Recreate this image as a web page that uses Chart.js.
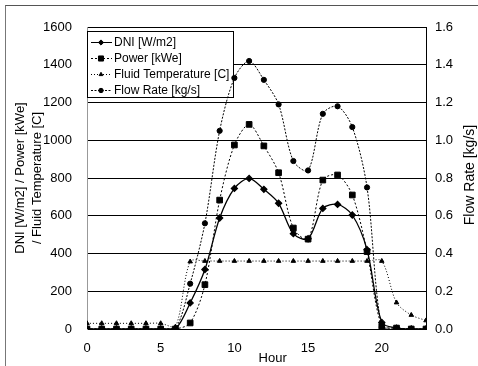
<!DOCTYPE html>
<html>
<head>
<meta charset="utf-8">
<script src="https://cdn.jsdelivr.net/npm/chart.js@4.4.1/dist/chart.umd.min.js"></script>
<style>
  html, body { margin: 0; padding: 0; background: #fff; }
  #wrap { position: relative; width: 478px; height: 366px; }
  #frame {
    position: absolute; left: 5px; top: 5px; width: 473px; height: 361px;
    border-top: 1px solid #555; border-left: 1px solid #777;
  }
  canvas { position: absolute; left: 0; top: 0; }
</style>
</head>
<body>
<div id="wrap">
  <div id="frame"></div>
  <canvas id="solarChart" width="478" height="366"></canvas>
</div>
<script>
// Hourly data
const hours = [0, 1, 2, 3, 4, 5, 6, 7, 8, 9, 10, 11, 12, 13, 14, 15, 16, 17, 18, 19, 20, 21, 22, 23];
const dni = [0, 0, 0, 0, 0, 0, 0, 138, 315, 588, 745, 798, 740, 666, 505, 478, 639, 660, 604, 420, 35, 5, 0, 0];
const power = [0, 0, 0, 0, 0, 0, 0, 32, 235, 683, 975, 1084, 970, 828, 535, 476, 789, 816, 710, 410, 15, 5, 0, 0];
const fluidTemp = [30, 30, 30, 30, 30, 30, 12, 357, 360, 360, 360, 360, 360, 360, 360, 360, 360, 360, 360, 360, 360, 140, 74, 45];
const flowRate = [0, 0, 0, 0, 0, 0, 0, 0.24, 0.56, 1.05, 1.33, 1.42, 1.32, 1.19, 0.89, 0.84, 1.14, 1.18, 1.07, 0.75, 0.01, 0.005, 0, 0];

// Tick labels
const leftTicks = [0, 200, 400, 600, 800, 1000, 1200, 1400, 1600];
const rightTicks = ['0.0', '0.2', '0.4', '0.6', '0.8', '1.0', '1.2', '1.4', '1.6'];
const hourTicks = [0, 5, 10, 15, 20];

const FONT = '"Liberation Sans", Arial, sans-serif';

function pts(values) {
    return hours.map((h, i) => ({ x: h, y: values[i] }));
}

// Legend box drawn inside the plot, under the data lines
const boxLegend = {
    id: 'boxLegend',
    beforeDatasetsDraw(chart) {
        const ctx = chart.ctx;
        const a = chart.chartArea;
        const left = a.left;
        const top = a.top + 4;
        ctx.save();
        ctx.fillStyle = '#fff';
        ctx.strokeStyle = '#000';
        ctx.lineWidth = 1;
        ctx.fillRect(left, top, 146, 66);
        ctx.strokeRect(left + 0.5, top + 0.5, 146, 66);
        ctx.font = '12px ' + FONT;
        ctx.textBaseline = 'middle';
        chart.data.datasets.forEach((ds, i) => {
            const y = Math.round(top + 11 + i * 16) + 0.5;
            ctx.strokeStyle = '#000';
            ctx.lineWidth = 1;
            ctx.setLineDash(ds.borderDash || []);
            ctx.beginPath();
            ctx.moveTo(left + 4, y);
            ctx.lineTo(left + 25, y);
            ctx.stroke();
            ctx.setLineDash([]);
            ctx.fillStyle = '#000';
            Chart.helpers.drawPoint(ctx, {
                pointStyle: ds.pointStyle,
                radius: ds.pointRadius - 0.4,
                rotation: 0,
                borderWidth: 1
            }, left + 14, y);
            ctx.fillStyle = '#000';
            ctx.fillText(ds.label, left + 27, y);
        });
        ctx.restore();
    },
    afterDraw(chart) {
        const ctx = chart.ctx;
        const a = chart.chartArea;
        ctx.save();
        ctx.fillStyle = '#000';
        ctx.font = '13px ' + FONT;
        ctx.textAlign = 'center';
        ctx.textBaseline = 'middle';
        ctx.fillText('Hour', chart.scales.x.getPixelForValue(12.6), 358);
        // right axis title reads bottom to top
        ctx.font = '14px ' + FONT;
        ctx.translate(470, (a.top + a.bottom) / 2 - 3);
        ctx.rotate(-Math.PI / 2);
        ctx.fillText('Flow Rate [kg/s]', 0, 0);
        ctx.restore();
    }
};

const ctx = document.getElementById('solarChart').getContext('2d');
new Chart(ctx, {
    type: 'line',
    data: {
        datasets: [{
            label: 'DNI [W/m2]',
            data: pts(dni),
            borderColor: '#000',
            backgroundColor: '#000',
            borderWidth: 1.3,
            pointStyle: 'rectRot',
            pointRadius: 3,
            tension: 0.3,
            yAxisID: 'y'
        }, {
            label: 'Power [kWe]',
            data: pts(power),
            borderColor: '#000',
            backgroundColor: '#000',
            borderWidth: 1,
            borderDash: [2, 2],
            pointStyle: 'rect',
            pointRadius: 4,
            tension: 0.3,
            yAxisID: 'y'
        }, {
            label: 'Fluid Temperature [C]',
            data: pts(fluidTemp),
            borderColor: '#000',
            backgroundColor: '#000',
            borderWidth: 1,
            borderDash: [1, 2],
            pointStyle: 'triangle',
            pointRadius: 2.6,
            tension: 0.3,
            yAxisID: 'y'
        }, {
            label: 'Flow Rate [kg/s]',
            data: pts(flowRate),
            borderColor: '#000',
            backgroundColor: '#000',
            borderWidth: 1,
            borderDash: [2, 1.5],
            pointStyle: 'circle',
            pointRadius: 2.6,
            tension: 0.3,
            yAxisID: 'y1'
        }]
    },
    options: {
        responsive: false,
        animation: false,
        layout: { padding: { top: 27, left: 0, right: 0, bottom: 0 } },
        plugins: {
            legend: { display: false },
            tooltip: { enabled: false }
        },
        elements: { point: { borderWidth: 1, borderColor: '#000' } },
        scales: {
            x: {
                type: 'linear',
                min: 0,
                max: 23,
                afterFit: s => { s.height = 37; },
                afterBuildTicks: s => { s.ticks = hourTicks.map(v => ({ value: v })); },
                ticks: {
                    color: '#000',
                    font: { family: FONT, size: 13 },
                    padding: 12,
                    maxRotation: 0,
                    callback: v => String(v)
                },
                grid: { display: false, drawTicks: false },
                border: { display: true, color: '#000', width: 1 }
            },
            y: {
                position: 'left',
                min: 0,
                max: 1600,
                afterFit: s => { s.width = 87; },
                afterBuildTicks: s => { s.ticks = leftTicks.map(v => ({ value: v })); },
                ticks: {
                    color: '#000',
                    font: { family: FONT, size: 13 },
                    padding: 15,
                    callback: v => String(v)
                },
                grid: { color: '#000', lineWidth: 1, drawTicks: false },
                border: { display: true, color: '#999', width: 1 },
                title: {
                    display: true,
                    text: ['DNI [W/m2] / Power [kWe]', '/ Fluid Temperature [C]'],
                    color: '#000',
                    font: { family: FONT, size: 13, lineHeight: 1.3 },
                    padding: { top: 12, bottom: 0 }
                }
            },
            y1: {
                position: 'right',
                min: 0,
                max: 1.6,
                afterFit: s => { s.width = 52; },
                afterBuildTicks: s => { s.ticks = rightTicks.map(v => ({ value: parseFloat(v) })); },
                ticks: {
                    color: '#000',
                    font: { family: FONT, size: 13 },
                    padding: 9,
                    callback: (v, i) => rightTicks[i]
                },
                grid: { display: false, drawTicks: false },
                border: { display: true, color: '#000', width: 1 }
            }
        }
    },
    plugins: [boxLegend]
});
</script>
</body>
</html>
